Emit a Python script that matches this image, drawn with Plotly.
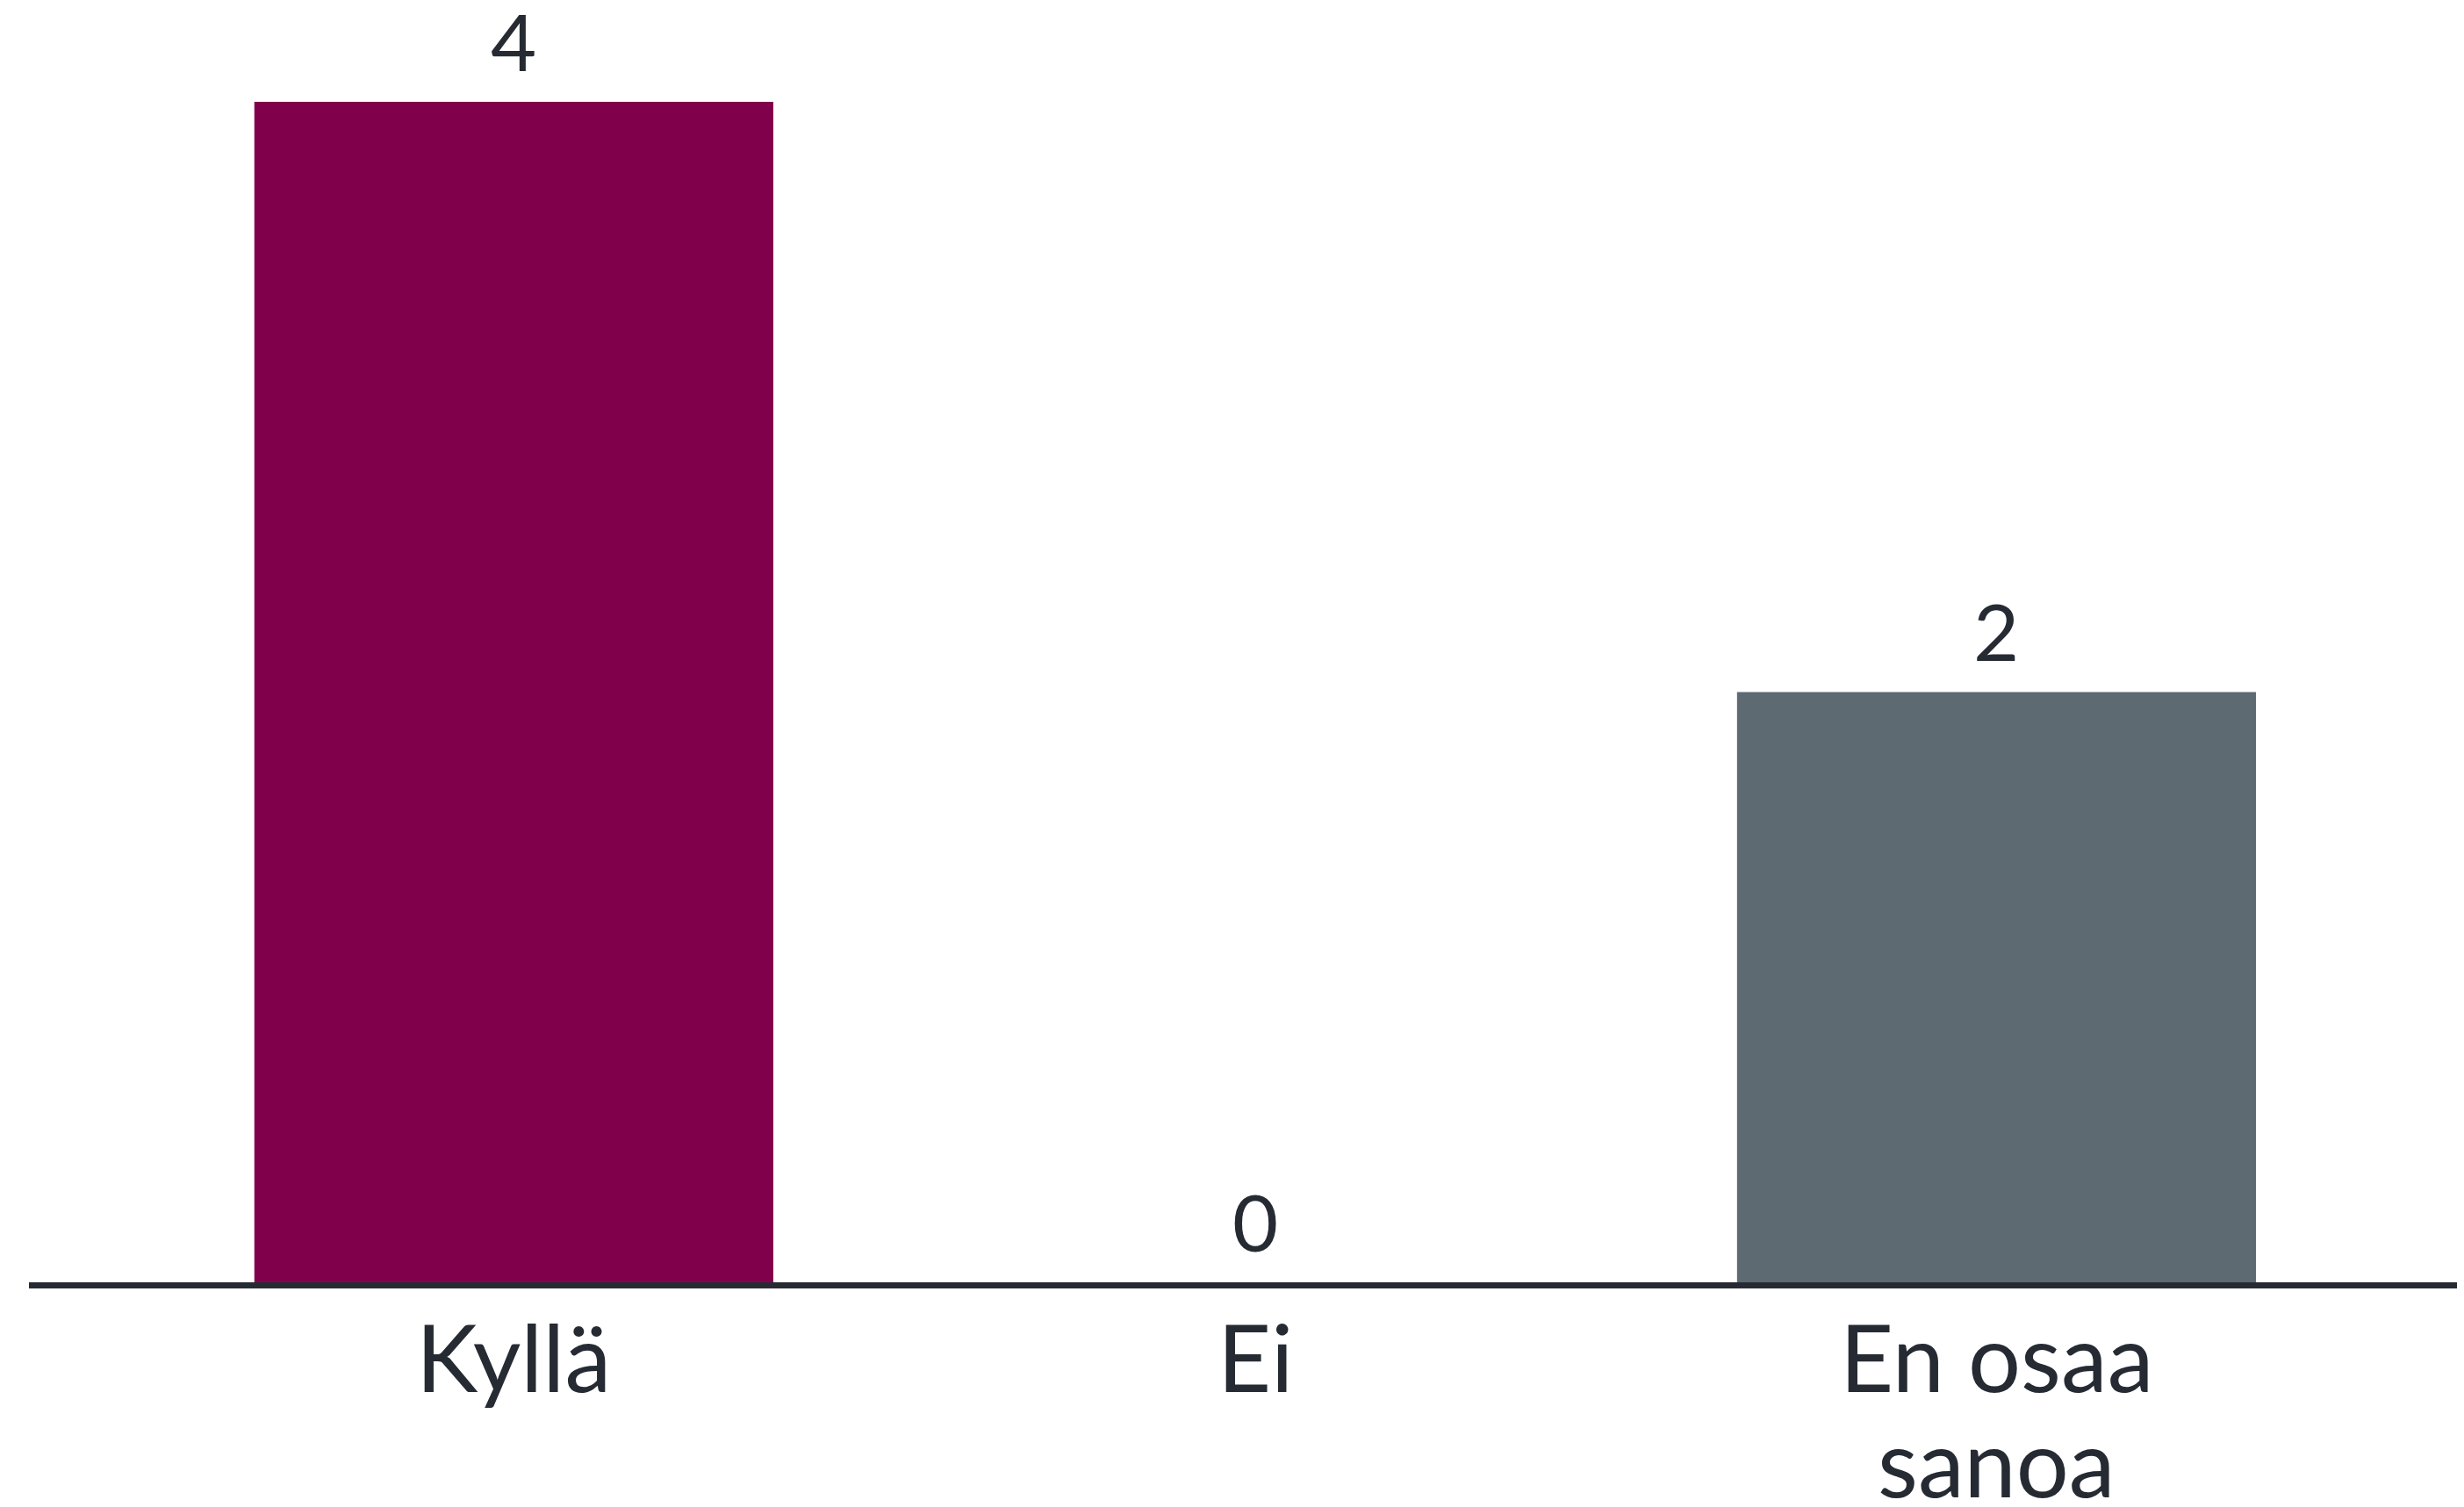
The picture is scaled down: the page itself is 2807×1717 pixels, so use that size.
import plotly.graph_objects as go

categories = ["Kyllä", "Ei", "En osaa<br>sanoa"]
values = [4, 0, 2]
colors = ["#80004C", "#80004C", "#5E6A71"]
value_labels = ["4", "0", "2"]

text_color = "#262B33"

fig = go.Figure()
fig.add_trace(go.Bar(
    x=categories, y=values,
    marker=dict(color=colors, line=dict(width=0)),
    width=0.7,
    hoverinfo="skip",
))

# value labels above bars
for c, v, t in zip(categories, values, value_labels):
    fig.add_annotation(
        x=c, y=v, text=t, showarrow=False,
        yanchor="bottom", yshift=14,
        font=dict(family="Lato", size=90, color=text_color),
    )

# category labels (tighter line spacing than plotly tick labels allow)
for c in categories:
    for i, line in enumerate(c.split("<br>")):
        fig.add_annotation(
            x=c, xref="x", y=0, yref="paper", text=line, showarrow=False,
            yanchor="top", yshift=-18 - i * 120,
            font=dict(family="Lato", size=106, color=text_color),
        )

fig.update_layout(
    width=2799, height=1709,
    margin=dict(l=25, r=0, t=0, b=256, autoexpand=False),
    paper_bgcolor="white", plot_bgcolor="white",
    showlegend=False,
    xaxis=dict(
        range=[-0.654, 2.6306],
        automargin=False,
        showgrid=False, zeroline=False,
        showline=True, linewidth=7, linecolor=text_color,
        ticks="", showticklabels=False,
    ),
    yaxis=dict(
        range=[0, 4.321], visible=False, automargin=False,
        showgrid=False, zeroline=False,
    ),
)

fig.write_html("out.html")
